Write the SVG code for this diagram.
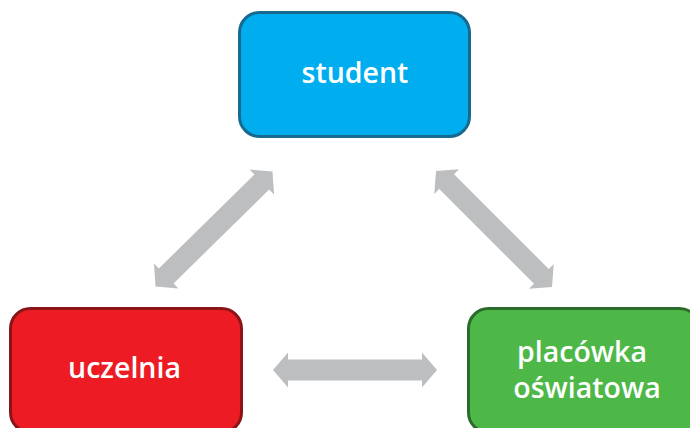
<svg xmlns="http://www.w3.org/2000/svg" width="690" height="428" viewBox="0 0 690 428">
<style>
.box{stroke-width:3}
.lbl{font-family:"Open Sans","Liberation Sans",sans-serif;font-weight:600;font-size:28.5px;fill:#ffffff;text-anchor:middle}
.arr{fill:#BCBEC0}
</style>
<defs>
<path id="dbl" d="M -82 0 L -67 -17.5 L -67 -10.5 L 67 -10.5 L 67 -17.5 L 82 0 L 67 17.5 L 67 10.5 L -67 10.5 L -67 17.5 Z"/>
</defs>
<rect width="690" height="428" fill="#ffffff"/>
<g id="connectors">
<use href="#dbl" class="arr" transform="translate(214,229) rotate(-44.5)"/>
<use href="#dbl" class="arr" transform="translate(494,229) rotate(45)"/>
<use href="#dbl" class="arr" transform="translate(355,370)"/>
</g>
<g id="student">
<rect class="box" x="239.5" y="12.5" width="230" height="124" rx="20" fill="#00AEEF" stroke="#17698F"/>
<text class="lbl" x="355" y="83">student</text>
</g>
<g id="uczelnia">
<rect class="box" x="10.5" y="308.5" width="231" height="124" rx="20" fill="#ED1C24" stroke="#8A1418"/>
<text class="lbl" x="124.5" y="378">uczelnia</text>
</g>
<g id="placowka">
<rect class="box" x="468.5" y="308.5" width="231" height="124" rx="20" fill="#4DB848" stroke="#2A6A2A"/>
<text class="lbl" x="582" y="362">placówka</text>
<text class="lbl" x="587" y="398">oświatowa</text>
</g>
</svg>
